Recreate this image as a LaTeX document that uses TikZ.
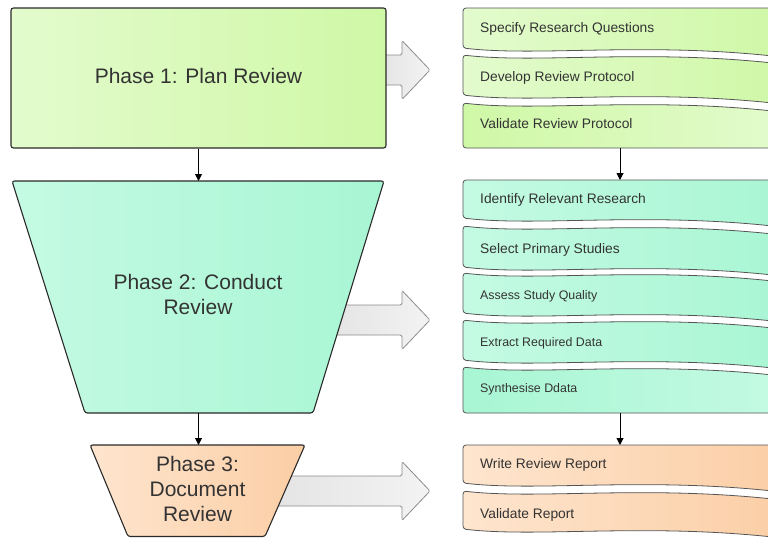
\documentclass[tikz,border=0pt]{standalone}
\usepackage{fontspec}
\setmainfont{Liberation Sans}
\usetikzlibrary{arrows.meta}
\definecolor{g1}{HTML}{E3FBCD}
\definecolor{g2}{HTML}{CFF8A6}
\definecolor{m1}{HTML}{C4FAE3}
\definecolor{m2}{HTML}{A8F6D3}
\definecolor{o1}{HTML}{FEE5CE}
\definecolor{o2}{HTML}{FBCEA5}
\definecolor{inkcolor}{HTML}{333333}
\definecolor{edgecolor}{HTML}{2A2A2A}
\definecolor{greyfill}{HTML}{E4E4E4}
\definecolor{greyline}{HTML}{8C8C8C}
\def\stepleft{463}
\def\stepright{790}
\def\steptext{480}

\begin{document}
\begin{tikzpicture}[
    x=1pt, y=-1pt,
    every node/.style={font=\fontsize{13.8}{16}\selectfont, text=inkcolor},
    phase/.style={draw=edgecolor, line width=1.1pt, rounded corners=2.5pt},
    phasetxt/.style={inner sep=0pt, align=center, font=\fontsize{21}{25}\selectfont},
    stepbox/.style={draw=edgecolor!80, line width=0.8pt, rounded corners=3pt},
    steptxt/.style={anchor=base west, inner sep=0pt},
    smalltxt/.style={font=\fontsize{12.4}{15}\selectfont},
    flow/.style={-{Triangle[length=7pt, width=7pt]}, line width=1pt, black},
    blockarrow/.style={draw=greyline, line width=0.8pt, left color=greyfill,
                       right color=greyfill!45, rounded corners=1.5pt},
]
\useasboundingbox (0,0) rectangle (768,538);
\clip (0,0) rectangle (768,538);

% ---------------------------------------------------------- grey hand-over arrows
\foreach \xs/\yc in {380/70, 330/320, 270/491} {
  \draw[blockarrow] (\xs,\yc-15) -- (402,\yc-15) -- (402,\yc-29.5) -- (430,\yc)
      -- (402,\yc+29.5) -- (402,\yc+15) -- (\xs,\yc+15) -- cycle;
}

% ---------------------------------------------------------- the three phases
\node[phase, phasetxt, minimum width=375pt, minimum height=140pt, text depth=5pt,
      left color=g1, right color=g2] (p1) at (198.5,78) {Phase 1: Plan Review};

\draw[phase, left color=m1, right color=m2]
  (12,181) -- (384,181) -- (313,413) -- (85,413) -- cycle;
\node[phasetxt] (p2) at (198,294.5) {Phase 2: Conduct\\Review};

\draw[phase, left color=o1, right color=o2]
  (90,445) -- (305,445) -- (265,536.5) -- (128,536.5) -- cycle;
\node[phasetxt] (p3) at (197.5,489) {Phase 3:\\Document\\Review};

\coordinate (p2top) at (198.5,181);
\coordinate (p2bot) at (198.5,413);
\coordinate (p3top) at (198.5,445);
\draw[flow] (p1.south) -- (p2top);
\draw[flow] (p2bot) -- (p3top);

% ---------------------------------------------------------- plan steps
\foreach \ya/\yb/\yt/\txt/\k [count=\i] in {
    8/48/27/{Specify Research Questions}/0,
    55/95/76/{Develop Review Protocol}/1,
    103/148/123/{Validate Review Protocol}/2} {
  \ifcase\k
    \draw[stepbox, left color=g1, right color=g2]
      (\stepleft,\ya) -- (\stepright,\ya) -- (\stepright,\yb+10)
      .. controls (650,\yb-7) and (540,\yb+9) .. (\stepleft,\yb) -- cycle;
  \or
    \draw[stepbox, left color=g1, right color=g2]
      (\stepleft,\ya) .. controls (540,\ya+9) and (650,\ya-7) .. (\stepright,\ya+10)
      -- (\stepright,\yb+10)
      .. controls (650,\yb-7) and (540,\yb+9) .. (\stepleft,\yb) -- cycle;
  \or
    \draw[stepbox, left color=g2, right color=g1]
      (\stepleft,\ya) .. controls (540,\ya+9) and (650,\ya-7) .. (\stepright,\ya+10)
      -- (\stepright,\yb) -- (\stepleft,\yb) -- cycle;
  \fi
  \node[steptxt] (plan\i) at (\steptext,\yt+5) {\txt};
}

% ---------------------------------------------------------- conduct steps
\foreach \ya/\yb/\yt/\txt/\k/\sm [count=\i] in {
    180/218/198/{Identify Relevant Research}/0/0,
    226/267/248/{Select Primary Studies}/1/0,
    273/313/295/{Assess Study Quality}/1/1,
    320/360/342/{Extract Required Data}/1/1,
    367/413/388/{Synthesise Ddata}/2/1} {
  \ifcase\k
    \draw[stepbox, left color=m1, right color=m2]
      (\stepleft,\ya) -- (\stepright,\ya) -- (\stepright,\yb+10)
      .. controls (650,\yb-7) and (540,\yb+9) .. (\stepleft,\yb) -- cycle;
  \or
    \draw[stepbox, left color=m1, right color=m2]
      (\stepleft,\ya) .. controls (540,\ya+9) and (650,\ya-7) .. (\stepright,\ya+10)
      -- (\stepright,\yb+10)
      .. controls (650,\yb-7) and (540,\yb+9) .. (\stepleft,\yb) -- cycle;
  \or
    \draw[stepbox, left color=m2, right color=m1]
      (\stepleft,\ya) .. controls (540,\ya+9) and (650,\ya-7) .. (\stepright,\ya+10)
      -- (\stepright,\yb) -- (\stepleft,\yb) -- cycle;
  \fi
  \ifnum\sm=1
    \node[steptxt, smalltxt] (cond\i) at (\steptext,\yt+4.5) {\txt};
  \else
    \node[steptxt] (cond\i) at (\steptext,\yt+5) {\txt};
  \fi
}

% ---------------------------------------------------------- document steps
\foreach \ya/\yb/\yt/\txt/\k [count=\i] in {
    445/483/463/{Write Review Report}/0,
    491/529/513/{Validate Report}/1} {
  \ifcase\k
    \draw[stepbox, left color=o1, right color=o2]
      (\stepleft,\ya) -- (\stepright,\ya) -- (\stepright,\yb+10)
      .. controls (650,\yb-7) and (540,\yb+9) .. (\stepleft,\yb) -- cycle;
  \or
    \draw[stepbox, left color=o1, right color=o2]
      (\stepleft,\ya) .. controls (540,\ya+9) and (650,\ya-7) .. (\stepright,\ya+10)
      -- (\stepright,\yb+10)
      .. controls (650,\yb-7) and (540,\yb+9) .. (\stepleft,\yb) -- cycle;
  \fi
  \node[steptxt] (doc\i) at (\steptext,\yt+5) {\txt};
}

% ---------------------------------------------------------- step hand-offs
\coordinate (planend)  at (620,148);
\coordinate (condtop)  at (620,180);
\coordinate (condend)  at (620,413);
\coordinate (doctop)   at (620,445);
\draw[flow] (planend) -- (condtop);
\draw[flow] (condend) -- (doctop);

\end{tikzpicture}
\end{document}
